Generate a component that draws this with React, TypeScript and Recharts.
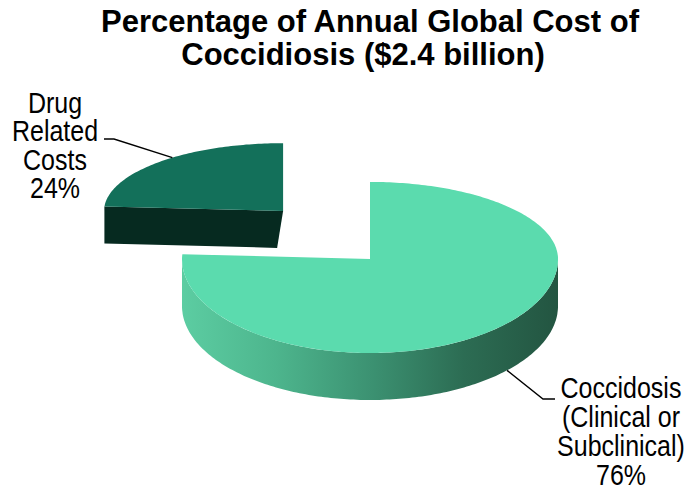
import { PieChart, Pie } from 'recharts'

// values
const categories = ['Drug Related Costs', 'Coccidosis (Clinical or Subclinical)']
const shares = [24, 76]
const labelLines = [
    ['Drug', 'Related', 'Costs'],
    ['Coccidosis', '(Clinical or', 'Subclinical)'],
]
const titleLines = ['Percentage of Annual Global Cost of', 'Coccidiosis ($2.4 billion)']

const data = categories.map((name, i) => ({ name, value: shares[i] }))

const W = 691
const H = 492
const FONT = '"Liberation Sans", Arial, Helvetica, sans-serif'
const SY = 1.2 // slice labels look stretched vertically in the source

const TOP_COLORS = ['#13705a', '#5bdbae']
const FRONT_COLORS = ['#062a20', '#3a8a6c']
const SIDE_STOPS = [
    ['#0a3b2e', '#0a3b2e', '#0a3b2e', '#0a3b2e', '#0a3b2e'],
    ['#5ccda2', '#4db58d', '#3c9272', '#2c6c53', '#235541'],
]

// title line centres / baselines
const TITLE_POS = [
    { x: 370, y: 32 },
    { x: 363, y: 65 },
]

// label placement (text centre, first baseline, line gap, leader elbow/end)
const LABELS = [
    { x: 55, y: 113, gap: 28.3, elbowX: 114, endX: 104, lineY: 139, along: -5 },
    { x: 621, y: 398, gap: 29, elbowX: 543, endX: 555, lineY: 399, along: 3.6 },
]

type Geo = {
    vx: number
    vy: number
    rx: number
    ryBack: number
    ryFront: number
    depth: number
    bottomShift: number // perspective: bottom edge pulled in a little
}

const rad = (d: number) => (d * Math.PI) / 180

function pt(g: Geo, deg: number, bottom = false): [number, number] {
    const s = Math.sin(rad(deg))
    const vx = bottom ? g.vx + g.bottomShift : g.vx
    const rx = bottom ? g.rx + g.bottomShift : g.rx
    return [vx + rx * Math.cos(rad(deg)), g.vy - s * (s > 0 ? g.ryBack : g.ryFront) + (bottom ? g.depth : 0)]
}

function arc(g: Geo, from: number, to: number, bottom = false) {
    const pts: [number, number][] = []
    const n = Math.max(2, Math.ceil(Math.abs(to - from)))
    for (let i = 0; i <= n; i++) pts.push(pt(g, from + ((to - from) * i) / n, bottom))
    return pts
}

const toPath = (pts: [number, number][]) =>
    pts.map((p, i) => `${i ? 'L' : 'M'}${p[0].toFixed(1)},${p[1].toFixed(1)}`).join(' ') + ' Z'

function geoFor(props: any): Geo {
    const { cx, cy, outerRadius, midAngle, index } = props
    if (index === 0) {
        // exploded slice, sits further back so it looks smaller/flatter
        const d = 127
        return {
            vx: cx + Math.cos(rad(midAngle)) * d,
            vy: cy - Math.sin(rad(midAngle)) * d * 0.52,
            rx: outerRadius * 0.952,
            ryBack: outerRadius * 0.36,
            ryFront: outerRadius * 0.42,
            depth: 37,
            bottomShift: -6,
        }
    }
    return {
        vx: cx,
        vy: cy,
        rx: outerRadius,
        ryBack: outerRadius * 0.41,
        ryFront: outerRadius * 0.5,
        depth: 47,
        bottomShift: 0,
    }
}

function StretchText({ x, y, size, bold, sy = 1, children }: any) {
    return (
        <text
            transform={`translate(${x},${y}) scale(1,${sy})`}
            textAnchor="middle"
            fontFamily={FONT}
            fontSize={size}
            fontWeight={bold ? 'bold' : 'normal'}
            fill="#000"
        >
            {children}
        </text>
    )
}

function Slice3D(props: any) {
    const { startAngle, endAngle, midAngle, index, value } = props
    const g = geoFor(props)
    const a0 = Math.min(startAngle, endAngle)
    const a1 = Math.max(startAngle, endAngle)
    const v: [number, number] = [g.vx, g.vy]
    const vb: [number, number] = [g.vx + g.bottomShift, g.vy + g.depth]

    const faces: JSX.Element[] = []
    // radial walls facing the viewer
    const walls = [
        { a: a0, normal: a0 - 90 },
        { a: a1, normal: a1 + 90 },
    ]
    walls.forEach((w, k) => {
        if (Math.sin(rad(w.normal)) < -0.01) {
            const p = pt(g, w.a)
            const pb = pt(g, w.a, true)
            faces.push(<path key={'w' + k} d={toPath([v, p, pb, vb])} fill={FRONT_COLORS[index]} />)
        }
    })
    // outer wall, front half only
    const lo = Math.max(a0, 180)
    const hi = Math.min(a1, 360)
    const gid = `side-${index}`
    if (hi > lo) {
        const top = arc(g, lo, hi)
        const bottom = arc(g, hi, lo, true)
        faces.push(<path key="side" d={toPath([...top, ...bottom])} fill={`url(#${gid})`} />)
    }
    const topFace = toPath([v, ...arc(g, a0, a1)])

    const lab = LABELS[index]
    const sp = pt(g, midAngle + lab.along, index === 1)
    const lines = [...labelLines[index], `${value}%`]

    return (
        <g>
            <defs>
                <linearGradient id={gid} gradientUnits="userSpaceOnUse" x1={g.vx - g.rx} x2={g.vx + g.rx} y1={0} y2={0}>
                    {SIDE_STOPS[index].map((c, i) => (
                        <stop key={i} offset={i / (SIDE_STOPS[index].length - 1)} stopColor={c} />
                    ))}
                </linearGradient>
            </defs>
            {faces}
            <path d={topFace} fill={TOP_COLORS[index]} />
            <polyline
                points={`${sp[0]},${sp[1]} ${lab.elbowX},${lab.lineY} ${lab.endX},${lab.lineY}`}
                fill="none"
                stroke="#000"
                strokeWidth={1.4}
            />
            {lines.map((t, i) => (
                <StretchText key={i} x={lab.x} y={lab.y + i * lab.gap} size={25} sy={SY}>
                    {t}
                </StretchText>
            ))}
        </g>
    )
}

export default function App() {
    return (
        <div style={{ position: 'absolute', left: 0, top: 0, width: W, height: H, background: '#fff' }}>
            <PieChart width={W} height={H} margin={{ top: 0, right: 0, bottom: 0, left: 0 }}>
                {titleLines.map((t, i) => (
                    <StretchText key={i} x={TITLE_POS[i].x} y={TITLE_POS[i].y} size={31} bold>
                        {t}
                    </StretchText>
                ))}
                <Pie
                    data={data}
                    dataKey="value"
                    nameKey="name"
                    cx={370}
                    cy={259}
                    outerRadius={188}
                    startAngle={90}
                    endAngle={450}
                    fill="transparent"
                    stroke="none"
                    label={Slice3D}
                    labelLine={false}
                    isAnimationActive={false}
                />
            </PieChart>
        </div>
    )
}
